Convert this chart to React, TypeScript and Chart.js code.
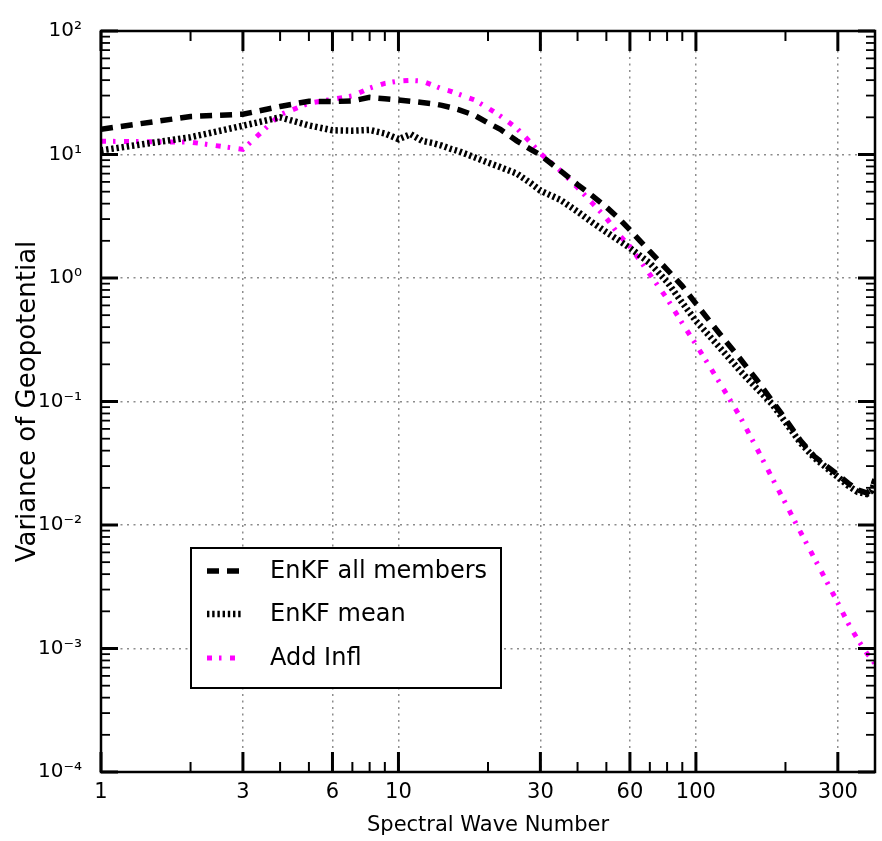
import React, { useEffect, useRef } from 'react';
import { Chart, registerables } from 'chart.js';

Chart.register(...registerables);

// ---- data ----
const waveNumbers = [
  1, 2, 3, 4, 5, 6, 7, 8, 9, 10, 11, 12, 13, 14, 15, 16, 18, 20, 22, 25, 28, 30,
  35, 40, 45, 50, 55, 60, 70, 80, 90, 100, 120, 140, 160, 180, 200, 225, 250, 275,
  300, 325, 350, 375, 390, 400,
];

const enkfAllMembers = [
  16, 20.3, 21.2, 24.5, 27, 26.8, 27.2, 29, 28.3, 27.6, 27, 26.4, 25.8, 25, 24, 23, 20.8, 18, 16, 12.9, 10.9, 9.9,
  7.4, 5.7, 4.6, 3.75, 3.05, 2.45, 1.64, 1.17, 0.86, 0.62, 0.355, 0.226, 0.15, 0.102, 0.072, 0.048, 0.036, 0.03,
  0.0255, 0.0218, 0.0192, 0.0182, 0.0195, 0.0235,
];

const enkfMean = [
  10.8, 13.8, 17.1, 20, 17.2, 15.7, 15.6, 15.8, 14.8, 13.3, 14.6, 12.9, 12.4, 11.8, 11.1, 10.6, 9.5, 8.6, 7.9, 7.0, 5.8, 5.1,
  4.3, 3.45, 2.8, 2.35, 2.02, 1.75, 1.32, 0.93, 0.63, 0.45, 0.275, 0.18, 0.128, 0.096, 0.068, 0.046, 0.035, 0.029,
  0.0245, 0.0208, 0.0185, 0.0178, 0.019, 0.0225,
];

const addInfl = [
  12.8, 12.6, 11.0, 21, 26, 28, 29.8, 34.5, 37.7, 39.3, 39.8, 39.3, 36.5, 34, 32.5, 30.7, 27.7, 23.8, 20.5, 16.3, 12.3, 10.2,
  7.4, 5.4, 4.0, 3.05, 2.25, 1.8, 1.07, 0.68, 0.43, 0.29, 0.143, 0.077, 0.042, 0.0243, 0.015, 0.0087, 0.0054, 0.0035,
  0.00234, 0.0016, 0.00118, 0.00092, 0.00082, 0.00075,
];

const seriesLabels = ['EnKF all members', 'EnKF mean', 'Add Infl'];

const xMajorTicks = [1, 3, 6, 10, 30, 60, 100, 300];
const xTickLabels = ['1', '3', '6', '10', '30', '60', '100', '300'];
const xMinorTicks = [2, 4, 5, 7, 8, 9, 20, 40, 50, 70, 80, 90, 200];

const yMajorTicks = [1e-4, 1e-3, 1e-2, 1e-1, 1, 10, 100];
const yTickLabels = ['10⁻⁴', '10⁻³', '10⁻²', '10⁻¹', '10⁰', '10¹', '10²'];
const yMinorMultipliers = [2, 3, 4, 5, 6, 7, 8, 9];

const xTitle = 'Spectral Wave Number';
const yTitle = 'Variance of Geopotential';

const FONT = "'DejaVu Sans', 'Liberation Sans', sans-serif";

// ---- plugin: inward ticks on all sides, frame, legend box ----
const frameAndLegend = {
  id: 'frameAndLegend',
  afterDatasetsDraw(chart: any) {
    const { ctx, chartArea: ca, scales } = chart;
    const xs = scales.x;
    const ys = scales.y;
    ctx.save();
    ctx.strokeStyle = '#000';
    ctx.lineCap = 'butt';
    ctx.setLineDash([]);
    const seg = (x1: number, y1: number, x2: number, y2: number, w: number) => {
      ctx.lineWidth = w;
      ctx.beginPath();
      ctx.moveTo(x1, y1);
      ctx.lineTo(x2, y2);
      ctx.stroke();
    };
    xMajorTicks.forEach((v) => {
      const p = xs.getPixelForValue(v);
      seg(p, ca.bottom, p, ca.bottom - 20, 3);
      seg(p, ca.top, p, ca.top + 20, 3);
    });
    xMinorTicks.forEach((v) => {
      const p = xs.getPixelForValue(v);
      seg(p, ca.bottom, p, ca.bottom - 10, 2);
      seg(p, ca.top, p, ca.top + 10, 2);
    });
    yMajorTicks.forEach((v, i) => {
      const p = ys.getPixelForValue(v);
      seg(ca.left, p, ca.left + 17, p, 3);
      seg(ca.right, p, ca.right - 17, p, 3);
      if (i < yMajorTicks.length - 1) {
        yMinorMultipliers.forEach((m) => {
          const q = ys.getPixelForValue(v * m);
          seg(ca.left, q, ca.left + 9, q, 1.8);
          seg(ca.right, q, ca.right - 9, q, 1.8);
        });
      }
    });
    ctx.lineWidth = 2.5;
    ctx.strokeRect(ca.left, ca.top, ca.right - ca.left, ca.bottom - ca.top);

    // legend
    const bx = ca.left + 90;
    const by = ca.top + 517;
    const bw = 310;
    const bh = 140;
    ctx.fillStyle = '#fff';
    ctx.fillRect(bx, by, bw, bh);
    ctx.lineWidth = 2;
    ctx.strokeRect(bx, by, bw, bh);
    const rows = [23, 66, 110];
    chart.data.datasets.forEach((ds: any, i: number) => {
      const y = by + rows[i];
      ctx.save();
      ctx.strokeStyle = ds.borderColor;
      ctx.lineWidth = ds.borderWidth;
      ctx.setLineDash(ds.borderDash || []);
      ctx.beginPath();
      ctx.moveTo(bx + 16, y);
      ctx.lineTo(bx + 51, y);
      ctx.stroke();
      ctx.restore();
      ctx.fillStyle = '#000';
      ctx.font = `24px ${FONT}`;
      ctx.textAlign = 'left';
      ctx.textBaseline = 'middle';
      ctx.fillText(ds.label, bx + 79, y + 1);
    });
    ctx.restore();
  },
};

const toPoints = (ys: number[]) => waveNumbers.map((x, i) => ({ x, y: ys[i] }));

export default function App() {
  const ref = useRef<HTMLCanvasElement>(null);

  useEffect(() => {
    if (!ref.current) return;
    const chart = new Chart(ref.current, {
      type: 'line',
      data: {
        datasets: [
          {
            label: seriesLabels[0],
            data: toPoints(enkfAllMembers),
            borderColor: '#000000',
            borderWidth: 5.5,
            borderDash: [12, 8],
            pointRadius: 0,
            tension: 0,
            fill: false,
          },
          {
            label: seriesLabels[1],
            data: toPoints(enkfMean),
            borderColor: '#000000',
            borderWidth: 6.5,
            borderDash: [2.4, 2.8],
            pointRadius: 0,
            tension: 0,
            fill: false,
          },
          {
            label: seriesLabels[2],
            data: toPoints(addInfl),
            borderColor: '#ff00ff',
            borderWidth: 5,
            borderDash: [5, 7, 2.5, 8.5],
            pointRadius: 0,
            tension: 0,
            fill: false,
          },
        ],
      },
      options: {
        animation: false,
        responsive: false,
        events: [],
        layout: { padding: { top: 25, right: 7, left: 0, bottom: 0 } },
        plugins: {
          legend: { display: false },
          tooltip: { enabled: false },
        },
        scales: {
          x: {
            type: 'logarithmic',
            min: 1,
            max: 400,
            afterBuildTicks: (s: any) => {
              s.ticks = xMajorTicks.map((v) => ({ value: v }));
            },
            afterFit: (s: any) => {
              s.height = 69;
            },
            ticks: {
              autoSkip: false,
              maxRotation: 0,
              padding: 8,
              color: '#000',
              font: { family: FONT, size: 21 },
              callback: (_v: any, i: number) => xTickLabels[i],
            },
            grid: { color: '#8c8c8c', lineWidth: 1.5, drawTicks: false },
            border: { display: false, dash: [2, 4.5] },
            title: {
              display: true,
              text: xTitle,
              color: '#000',
              font: { family: FONT, size: 21 },
              padding: { top: 0, bottom: 3 },
            },
          },
          y: {
            type: 'logarithmic',
            min: 1e-4,
            max: 100,
            afterBuildTicks: (s: any) => {
              s.ticks = yMajorTicks.map((v) => ({ value: v }));
            },
            afterFit: (s: any) => {
              s.width = 101;
            },
            ticks: {
              autoSkip: false,
              padding: 19,
              color: '#000',
              font: { family: FONT, size: 20 },
              callback: (_v: any, i: number) => yTickLabels[i],
            },
            grid: { color: '#8c8c8c', lineWidth: 1.5, drawTicks: false },
            border: { display: false, dash: [2, 4.5] },
            title: {
              display: true,
              text: yTitle,
              color: '#000',
              font: { family: FONT, size: 26 },
              padding: { top: 13, bottom: 0 },
            },
          },
        },
      },
      plugins: [frameAndLegend],
    } as any);
    return () => chart.destroy();
  }, []);

  return (
    <div style={{ position: 'absolute', left: 0, top: 0, width: 882, height: 841, background: '#fff' }}>
      <canvas ref={ref} width={882} height={841} style={{ display: 'block' }} />
    </div>
  );
}
